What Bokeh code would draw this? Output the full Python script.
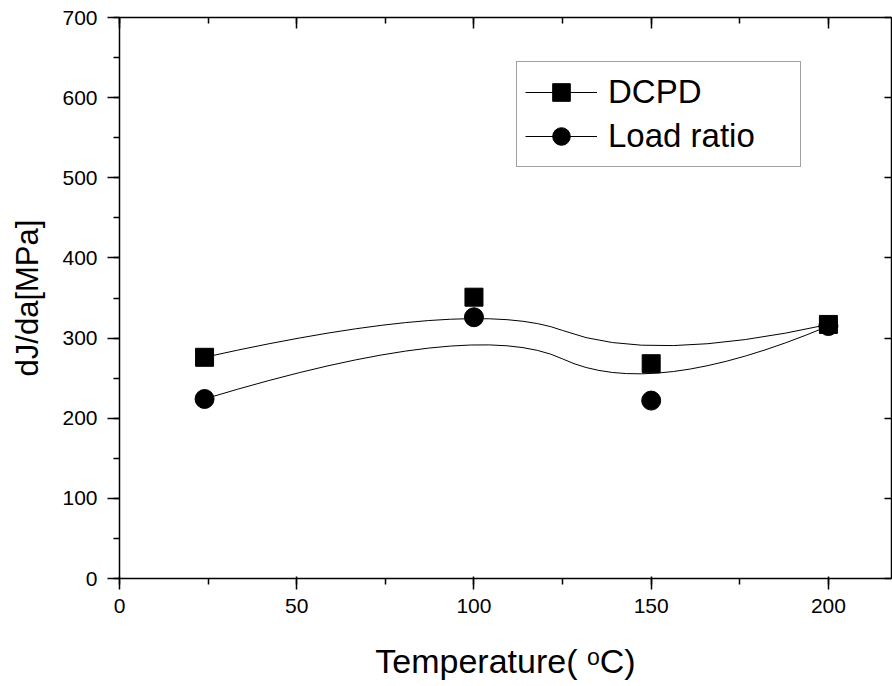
import numpy as np
from bokeh.plotting import figure
from bokeh.models import (Range1d, LinearAxis, SingleIntervalTicker, Legend, LegendItem,
                          ColumnDataSource, CustomLabelingPolicy)
from bokeh.embed import file_html
from bokeh.resources import INLINE

# ---- data ----
temperature = [24, 100, 150, 200]
dcpd = [276, 351, 268, 317]
load_ratio = [224, 326, 222, 315]
x_ticks = [0, 50, 100, 150, 200]
y_ticks = [0, 100, 200, 300, 400, 500, 600, 700]

FONT = "Liberation Sans"

p = figure(width=892, height=686, output_backend="svg", toolbar_location=None,
           x_range=Range1d(0, 217.8), y_range=Range1d(0, 700),
           min_border_left=119, min_border_right=1, min_border_top=17, min_border_bottom=108,
           x_axis_location=None, y_axis_location=None)
p.outline_line_color = None
p.xgrid.visible = False
p.ygrid.visible = False
p.background_fill_color = "white"
p.border_fill_color = "white"


def style_axis(ax, tick_in, tick_out, minor_in, minor_out):
    ax.axis_line_width = 1.5
    ax.axis_line_color = "black"
    ax.major_tick_line_width = 1.5
    ax.minor_tick_line_width = 1.5
    ax.major_tick_line_color = "black"
    ax.minor_tick_line_color = "black"
    ax.major_tick_in = tick_in
    ax.major_tick_out = tick_out
    ax.minor_tick_in = minor_in
    ax.minor_tick_out = minor_out
    ax.major_label_text_font = FONT
    ax.major_label_text_font_size = "21px"
    ax.major_label_text_color = "black"
    ax.axis_label_text_font = FONT
    ax.axis_label_text_font_size = "34px"
    ax.axis_label_text_font_style = "normal"
    ax.axis_label_text_color = "black"


xt = SingleIntervalTicker(interval=x_ticks[1] - x_ticks[0], num_minor_ticks=2)
yt = SingleIntervalTicker(interval=y_ticks[1] - y_ticks[0], num_minor_ticks=2)

bottom = LinearAxis(ticker=xt, axis_label="Temperature( \u1d52C)")
style_axis(bottom, 2, 11, 0, 6)
bottom.major_label_standoff = 9
bottom.axis_label_standoff = 26
p.add_layout(bottom, "below")

left = LinearAxis(ticker=yt, axis_label="dJ/da[MPa]")
style_axis(left, 0, 12, 0, 6)
left.axis_label_text_font_size = "31px"
left.major_label_standoff = 10
left.axis_label_standoff = 14
p.add_layout(left, "left")

top = LinearAxis(ticker=SingleIntervalTicker(interval=x_ticks[1] - x_ticks[0], num_minor_ticks=2),
                 major_label_policy=CustomLabelingPolicy(code="return []"))
style_axis(top, 11, 0, 6, 0)
top.major_label_text_font_size = "0px"
top.major_label_standoff = 0
p.add_layout(top, "above")

right = LinearAxis(ticker=SingleIntervalTicker(interval=y_ticks[1] - y_ticks[0], num_minor_ticks=2),
                   major_label_policy=CustomLabelingPolicy(code="return []"))
style_axis(right, 7, 0, 0, 0)
right.minor_tick_line_color = None
right.major_label_text_font_size = "0px"
right.major_label_standoff = 0
p.add_layout(right, "right")


def bspline_segments(xs, ys):
    """Quadratic clamped B-spline through the end points, inner points as controls."""
    xs = np.asarray(xs, float)
    ys = np.asarray(ys, float)
    mx = (xs[1:-2] + xs[2:-1]) / 2
    my = (ys[1:-2] + ys[2:-1]) / 2
    x0 = np.concatenate([[xs[0]], mx])
    y0 = np.concatenate([[ys[0]], my])
    x1 = np.concatenate([mx, [xs[-1]]])
    y1 = np.concatenate([my, [ys[-1]]])
    return dict(x0=x0, y0=y0, x1=x1, y1=y1, cx=xs[1:-1], cy=ys[1:-1])


c1 = p.quadratic(source=ColumnDataSource(bspline_segments(temperature, dcpd)),
                 x0="x0", y0="y0", x1="x1", y1="y1", cx="cx", cy="cy",
                 line_color="black", line_width=1)
c2 = p.quadratic(source=ColumnDataSource(bspline_segments(temperature, load_ratio)),
                 x0="x0", y0="y0", x1="x1", y1="y1", cx="cx", cy="cy",
                 line_color="black", line_width=1)

m2 = p.scatter(temperature, load_ratio, marker="circle", size=19,
               fill_color="black", line_color="black")
m1 = p.scatter(temperature, dcpd, marker="square", size=18,
               fill_color="black", line_color="black")

leg = Legend(items=[LegendItem(label="DCPD", renderers=[c1, m1]),
                    LegendItem(label="Load ratio", renderers=[c2, m2])],
             location=(397, 411), margin=0, padding=8, spacing=0,
             glyph_width=72, glyph_height=44, label_standoff=11,
             label_width=184, label_height=44,
             label_text_font=FONT, label_text_font_size="33px",
             label_text_color="black",
             border_line_color="#444444", border_line_width=1,
             background_fill_color="white", background_fill_alpha=1)
p.add_layout(leg, "center")

open("out.html", "w").write(file_html(p, INLINE))
